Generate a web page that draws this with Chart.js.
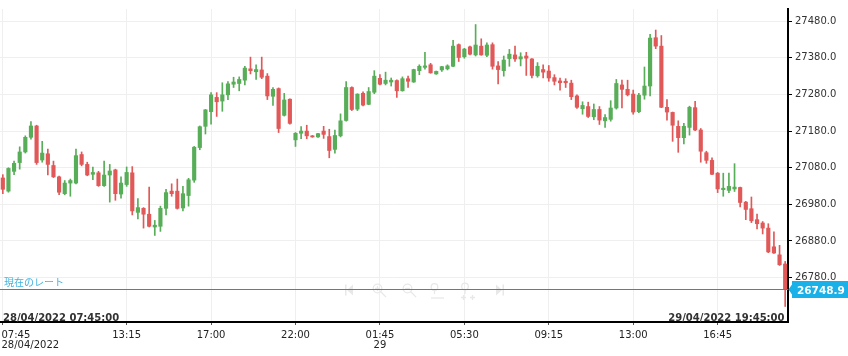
<!DOCTYPE html>
<html><head><meta charset="utf-8">
<script src="https://cdn.jsdelivr.net/npm/chart.js@4.4.0/dist/chart.umd.min.js"></script>
<style>html,body{margin:0;padding:0;background:#fff;overflow:hidden}canvas{display:block}</style>
</head><body>
<canvas id="c" width="848" height="356"></canvas>
<script>
// ---- data (15-minute candles, 28/04/2022 07:45 -> 29/04/2022 19:45) ----
const openPrices = [
27052,27016,27070,27094,27123,27163,27194,27101,27118,27086,27055,27009,27038,27038,27116,27089,27062,27066,27031,27060,
27074,27008,27034,27066,26958,26969,26953,26918,26920,26969,27016,27016,26970,27004,27046,27135,27193,27233,27272,27262,
27279,27308,27310,27319,27350,27342,27347,27330,27275,27296,27223,27267,27156,27174,27180,27167,27164,27180,27165,27130,
27167,27209,27299,27240,27283,27253,27286,27324,27310,27314,27318,27290,27323,27314,27345,27354,27361,27336,27347,27350,
27357,27416,27383,27410,27388,27412,27387,27416,27358,27345,27378,27388,27377,27385,27377,27331,27348,27344,27326,27317,
27316,27311,27276,27241,27247,27219,27239,27208,27212,27243,27306,27294,27281,27233,27278,27303,27435,27412,27245,27231,
27193,27162,27190,27244,27183,27121,27100,27065,27020,27018,27022,27026,26986,26968,26938,26929,26915,26864,26842,26817];
const highPrices = [
27061,27080,27098,27137,27167,27206,27196,27152,27131,27098,27057,27045,27049,27131,27123,27095,27082,27070,27098,27089,
27076,27055,27082,27083,26996,26971,27027,26936,26975,27021,27036,27049,27029,27051,27138,27194,27239,27285,27285,27312,
27315,27327,27328,27357,27382,27361,27382,27337,27299,27298,27283,27268,27176,27192,27196,27168,27174,27193,27185,27183,
27227,27315,27301,27282,27287,27299,27345,27334,27341,27325,27320,27328,27330,27349,27361,27395,27365,27344,27357,27361,
27428,27418,27406,27412,27471,27432,27421,27421,27370,27385,27403,27412,27394,27395,27378,27367,27361,27359,27334,27325,
27323,27319,27279,27260,27259,27254,27247,27225,27263,27321,27319,27319,27292,27283,27355,27444,27456,27441,27266,27232,
27208,27201,27248,27261,27187,27125,27107,27067,27065,27065,27091,27027,26988,27000,26953,26933,26927,26905,26868,26824];
const lowPrices = [
27009,27013,27061,27076,27120,27158,27089,27095,27060,27053,27006,27006,27002,27036,27085,27058,27047,27029,27029,26986,
26991,26997,27029,26951,26940,26915,26918,26895,26906,26951,27002,26967,26962,26975,27040,27129,27172,27199,27220,27234,
27266,27299,27290,27306,27336,27321,27323,27266,27250,27176,27221,27199,27138,27159,27159,27163,27163,27160,27107,27120,
27164,27207,27236,27236,27249,27252,27282,27306,27306,27303,27272,27289,27299,27313,27334,27349,27338,27335,27343,27347,
27356,27370,27379,27388,27385,27387,27383,27349,27309,27330,27357,27370,27358,27332,27325,27327,27325,27316,27306,27292,
27299,27266,27242,27226,27217,27211,27198,27190,27207,27240,27243,27276,27226,27230,27267,27276,27405,27244,27210,27152,
27122,27145,27169,27181,27095,27092,27061,27012,27002,27012,27015,26973,26938,26930,26913,26899,26848,26846,26813,26701];
const closePrices = [
27021,27078,27092,27123,27163,27194,27094,27120,27089,27055,27013,27038,27045,27113,27089,27060,27067,27031,27060,27071,
27009,27038,27067,26962,26971,26953,26920,26923,26969,27012,27009,26969,27009,27047,27136,27192,27238,27279,27260,27279,
27309,27314,27321,27352,27345,27348,27327,27276,27294,27187,27265,27201,27174,27180,27167,27164,27173,27171,27127,27168,
27208,27299,27239,27281,27251,27288,27330,27308,27319,27319,27290,27323,27316,27348,27357,27358,27339,27343,27356,27358,
27412,27381,27404,27390,27415,27388,27415,27357,27348,27374,27390,27377,27383,27379,27332,27357,27341,27325,27316,27312,
27312,27274,27245,27250,27220,27239,27210,27217,27243,27310,27294,27279,27232,27278,27303,27434,27412,27245,27232,27196,
27162,27193,27245,27183,27125,27100,27062,27022,27024,27029,27027,26985,26966,26935,26927,26915,26850,26847,26815,26748.9];

const yTickValues = [26780, 26880, 26980, 27080, 27180, 27280, 27380, 27480];
const xTickIndex  = [0, 22, 37, 52, 67, 82, 97, 112, 127];
const xTickLabels = [['07:45','28/04/2022'],['13:15'],['17:00'],['22:00'],['01:45','29'],['05:30'],['09:15'],['13:00'],['16:45']];
const currentRate = 26748.9;
const currentRateText = '現在のレート';
const firstStamp = '28/04/2022 07:45:00';
const lastStamp  = '29/04/2022 19:45:00';
const yMin = 26658.6, yMax = 27513.4;

// category labels: 15-minute steps, one 75-minute session break before bar 41
const categories = [];
(function(){
  let t = Date.UTC(2022,3,28,7,45);
  for (let i = 0; i < closePrices.length; i++) {
    if (i === 41) t += 75*60000;
    const d = new Date(t);
    const p = n => String(n).padStart(2,'0');
    categories.push(p(d.getUTCDate())+'/'+p(d.getUTCMonth()+1)+'/'+d.getUTCFullYear()+' '+p(d.getUTCHours())+':'+p(d.getUTCMinutes()));
    t += 15*60000;
  }
})();

const UP = '#58ad58', DOWN = '#e05858';
const candleColors = closePrices.map((c,i) => c >= openPrices[i] ? UP : DOWN);

const overlay = {
  id: 'overlay',
  beforeDatasetsDraw(chart){
    // faint navigation icons
    const ctx = chart.ctx;
    ctx.save();
    ctx.strokeStyle = '#e8e8e8'; ctx.fillStyle = '#e8e8e8'; ctx.lineWidth = 1.3;
    const cy = 290;
    ctx.fillRect(345, cy-5.5, 1.5, 11);
    ctx.beginPath(); ctx.moveTo(347, cy); ctx.lineTo(353, cy-5.5); ctx.lineTo(353, cy+5.5); ctx.closePath(); ctx.fill();
    ctx.beginPath(); ctx.moveTo(502, cy); ctx.lineTo(496, cy-5.5); ctx.lineTo(496, cy+5.5); ctx.closePath(); ctx.fill();
    ctx.fillRect(502.5, cy-5.5, 1.5, 11);
    const mag = (x, y, r) => {
      ctx.beginPath(); ctx.arc(x, y, r, 0, Math.PI*2); ctx.stroke();
      ctx.beginPath(); ctx.moveTo(x + r*0.7, y + r*0.7); ctx.lineTo(x + r*2, y + r*2); ctx.stroke();
    };
    mag(377.5, 288.5, 4.3);
    ctx.beginPath(); ctx.moveTo(375, 288.5); ctx.lineTo(380, 288.5); ctx.moveTo(377.5, 286); ctx.lineTo(377.5, 291); ctx.stroke();
    mag(407.5, 288.5, 4.3);
    ctx.beginPath(); ctx.moveTo(405, 288.5); ctx.lineTo(410, 288.5); ctx.stroke();
    ctx.beginPath(); ctx.arc(434.5, 287, 3.3, 0, Math.PI*2); ctx.stroke();
    ctx.beginPath(); ctx.moveTo(434.5, 290.5); ctx.lineTo(434.5, 294); ctx.stroke();
    ctx.beginPath(); ctx.moveTo(431, 298); ctx.lineTo(444, 298); ctx.stroke();
    ctx.beginPath(); ctx.arc(465, 286.5, 3.3, 0, Math.PI*2); ctx.stroke();
    ctx.beginPath(); ctx.moveTo(465, 290); ctx.lineTo(465, 294); ctx.stroke();
    ctx.beginPath(); ctx.moveTo(461, 297.5); ctx.lineTo(466, 297.5); ctx.moveTo(463.5, 295); ctx.lineTo(463.5, 300);
    ctx.moveTo(470, 297.5); ctx.lineTo(475, 297.5); ctx.moveTo(472.5, 295); ctx.lineTo(472.5, 300); ctx.stroke();
    ctx.restore();
  },
  afterDraw(chart){
    const {ctx, chartArea: a, scales: {x, y}} = chart;
    ctx.save();
    // x tick labels from the category scale
    ctx.font = '10px "DejaVu Sans"'; ctx.fillStyle = '#222'; ctx.textBaseline = 'alphabetic';
    xTickIndex.forEach((idx, k) => {
      const px = x.getPixelForValue(idx);
      xTickLabels[k].forEach((t, j) => {
        if (k === 0) { ctx.textAlign = 'left'; ctx.fillText(t, 1.5, 338 + j*10); }
        else { ctx.textAlign = 'center'; ctx.fillText(t, px, 338 + j*10); }
      });
    });
    // current rate line
    const py = Math.round(y.getPixelForValue(currentRate));
    const ly = py + 0.5;
    ctx.fillStyle = '#1697c4';
    ctx.fillRect(a.left, py, a.right - a.left, 1);
    ctx.textAlign = 'left';
    ctx.font = '10px "Noto Sans CJK JP"'; ctx.fillStyle = '#3fb2e0';
    ctx.fillText(currentRateText, 4, ly - 3.5);
    // price tag
    ctx.fillStyle = '#19b1e8';
    ctx.beginPath();
    ctx.moveTo(a.right + 0.5, ly);
    ctx.lineTo(a.right + 4, ly - 5);
    ctx.lineTo(a.right + 4, ly - 8.5);
    ctx.lineTo(848, ly - 8.5);
    ctx.lineTo(848, ly + 8.5);
    ctx.lineTo(a.right + 4, ly + 8.5);
    ctx.lineTo(a.right + 4, ly + 5);
    ctx.closePath(); ctx.fill();
    ctx.fillStyle = '#fff'; ctx.font = 'bold 10.5px "DejaVu Sans"';
    ctx.fillText(currentRate.toFixed(1), a.right + 9, ly + 4);
    // first / last timestamps
    ctx.fillStyle = '#333'; ctx.font = 'bold 10px "DejaVu Sans"';
    ctx.textAlign = 'left'; ctx.fillText(firstStamp, 3, a.bottom - 1);
    ctx.textAlign = 'right'; ctx.fillText(lastStamp, a.right - 3.5, a.bottom - 1);
    ctx.restore();
  }
};

new Chart(document.getElementById('c').getContext('2d'), {
  type: 'bar',
  data: {
    labels: categories,
    datasets: [
      { data: openPrices.map((o,i) => [o, closePrices[i]]), backgroundColor: candleColors,
        barThickness: 3.5, grouped: false, borderWidth: 0, borderSkipped: false },
      { data: lowPrices.map((l,i) => [l, highPrices[i]]), backgroundColor: candleColors,
        barThickness: 1, grouped: false, borderWidth: 0, borderSkipped: false }
    ]
  },
  options: {
    responsive: false, animation: false, events: [],
    layout: { padding: { top: 3, left: 0, right: 0, bottom: 0 } },
    plugins: { legend: { display: false }, tooltip: { enabled: false } },
    scales: {
      x: {
        type: 'category', offset: true,
        grid: { offset: false, color: '#efefef', lineWidth: 1, tickLength: 3, tickColor: '#555' },
        border: { display: true, color: '#000', width: 2 },
        ticks: { display: false, autoSkip: false },
        afterBuildTicks: s => { s.ticks = xTickIndex.map(v => ({ value: v })); },
        afterFit: s => { s.height = 34; }
      },
      y: {
        position: 'right', min: yMin, max: yMax,
        grid: { color: '#efefef', lineWidth: 1, tickLength: 4, tickColor: '#000' },
        border: { display: true, color: '#000', width: 2 },
        ticks: { font: { family: 'DejaVu Sans', size: 10 }, color: '#333', padding: 3,
                 callback: v => Number(v).toFixed(1) },
        afterBuildTicks: s => { s.ticks = yTickValues.map(v => ({ value: v })); },
        afterFit: s => { s.width = 60; }
      }
    }
  },
  plugins: [overlay]
});
</script>
</body></html>
